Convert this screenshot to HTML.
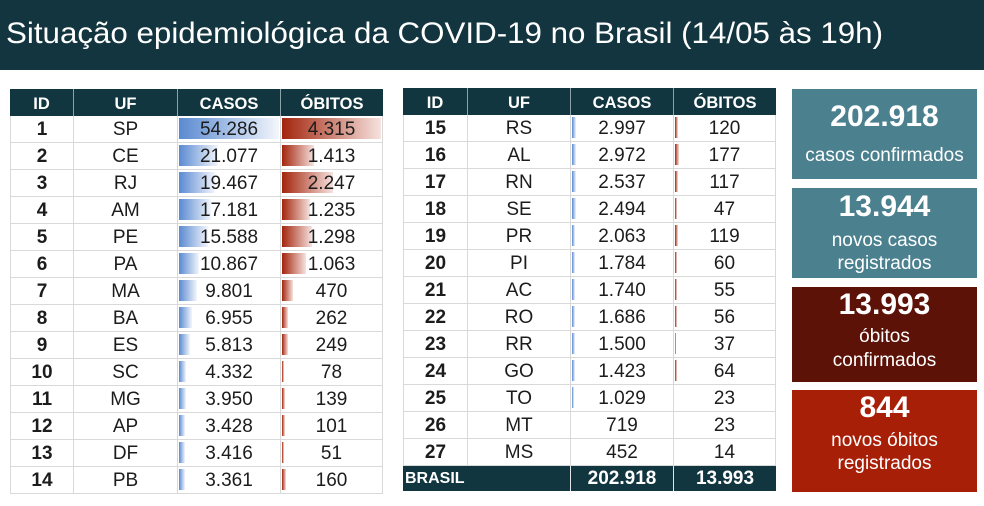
<!DOCTYPE html>
<html><head><meta charset="utf-8">
<style>
*{margin:0;padding:0;box-sizing:border-box}
html,body{width:984px;height:506px;background:#fff;overflow:hidden;font-family:"Liberation Sans",sans-serif}
.bar{position:absolute;left:0;top:0;width:984px;height:70px;background:#13353f}
.t{position:absolute;display:grid;grid-auto-rows:27px}
.c{position:relative;border-right:1px solid #d9d9d9;border-bottom:1px solid #d9d9d9;text-align:center;line-height:27px;font-size:19px;color:#1c1c1c;overflow:hidden;white-space:nowrap}
.c.f{border-left:1px solid #d9d9d9}
.id{font-weight:bold}
.h{background:#12363f;color:#fff;font-weight:bold;font-size:16.5px;line-height:30px;border-right:1px solid #8ea3a9;border-bottom:none}
.h.l{border-right:none}
.c span{position:relative}
.b{position:absolute;left:1px;top:2px;bottom:3px;background:linear-gradient(90deg,#5a8ad1,#f3f6fc)}
.r{position:absolute;left:1px;top:2px;bottom:3px;background:linear-gradient(90deg,#a3250d,#f6e2de)}
.tot{background:#12363f;color:#fff;font-weight:bold;font-size:19px;line-height:26px;border-right:1px solid #e0e6e8;border-bottom:none;height:25px}
.box{position:absolute;left:792px;width:185px;color:#fff;text-align:center}
.box .n{position:absolute;left:0;width:100%;font-weight:bold;font-size:30px;line-height:30px}
.box .lb{position:absolute;left:0;width:100%;font-size:19px;line-height:23px}
</style></head><body>
<div class="bar"></div>
<svg style="position:absolute;left:0;top:0" width="984" height="70">
<text x="6" y="43" font-family="Liberation Sans, sans-serif" font-size="30" fill="#fff" textLength="877" lengthAdjust="spacingAndGlyphs">Situação epidemiológica da COVID-19 no Brasil (14/05 às 19h)</text>
</svg>

<div class="t" style="left:10px;top:89px;grid-template-columns:64px 104px 103px 102px">
<div class="c h">ID</div><div class="c h">UF</div><div class="c h">CASOS</div><div class="c h l">ÓBITOS</div>

<div class="c f id">1</div><div class="c">SP</div><div class="c"><i class="b" style="width:100px"></i><span>54.286</span></div><div class="c"><i class="r" style="width:99px"></i><span>4.315</span></div>
<div class="c f id">2</div><div class="c">CE</div><div class="c"><i class="b" style="width:39px"></i><span>21.077</span></div><div class="c"><i class="r" style="width:32px"></i><span>1.413</span></div>
<div class="c f id">3</div><div class="c">RJ</div><div class="c"><i class="b" style="width:36px"></i><span>19.467</span></div><div class="c"><i class="r" style="width:51px"></i><span>2.247</span></div>
<div class="c f id">4</div><div class="c">AM</div><div class="c"><i class="b" style="width:32px"></i><span>17.181</span></div><div class="c"><i class="r" style="width:28px"></i><span>1.235</span></div>
<div class="c f id">5</div><div class="c">PE</div><div class="c"><i class="b" style="width:29px"></i><span>15.588</span></div><div class="c"><i class="r" style="width:30px"></i><span>1.298</span></div>
<div class="c f id">6</div><div class="c">PA</div><div class="c"><i class="b" style="width:20px"></i><span>10.867</span></div><div class="c"><i class="r" style="width:24px"></i><span>1.063</span></div>
<div class="c f id">7</div><div class="c">MA</div><div class="c"><i class="b" style="width:18px"></i><span>9.801</span></div><div class="c"><i class="r" style="width:11px"></i><span>470</span></div>
<div class="c f id">8</div><div class="c">BA</div><div class="c"><i class="b" style="width:13px"></i><span>6.955</span></div><div class="c"><i class="r" style="width:6px"></i><span>262</span></div>
<div class="c f id">9</div><div class="c">ES</div><div class="c"><i class="b" style="width:11px"></i><span>5.813</span></div><div class="c"><i class="r" style="width:6px"></i><span>249</span></div>
<div class="c f id">10</div><div class="c">SC</div><div class="c"><i class="b" style="width:7px"></i><span>4.332</span></div><div class="c"><i class="r" style="width:2px"></i><span>78</span></div>
<div class="c f id">11</div><div class="c">MG</div><div class="c"><i class="b" style="width:7px"></i><span>3.950</span></div><div class="c"><i class="r" style="width:3px"></i><span>139</span></div>
<div class="c f id">12</div><div class="c">AP</div><div class="c"><i class="b" style="width:6px"></i><span>3.428</span></div><div class="c"><i class="r" style="width:2.5px"></i><span>101</span></div>
<div class="c f id">13</div><div class="c">DF</div><div class="c"><i class="b" style="width:6px"></i><span>3.416</span></div><div class="c"><i class="r" style="width:1.5px"></i><span>51</span></div>
<div class="c f id">14</div><div class="c">PB</div><div class="c"><i class="b" style="width:6px"></i><span>3.361</span></div><div class="c"><i class="r" style="width:3.5px"></i><span>160</span></div>
</div>

<div class="t" style="left:403px;top:88px;grid-template-columns:65px 103px 103px 102px">
<div class="c h">ID</div><div class="c h">UF</div><div class="c h">CASOS</div><div class="c h l">ÓBITOS</div>

<div class="c f id">15</div><div class="c">RS</div><div class="c"><i class="b" style="width:4px"></i><span>2.997</span></div><div class="c"><i class="r" style="width:2.5px"></i><span>120</span></div>
<div class="c f id">16</div><div class="c">AL</div><div class="c"><i class="b" style="width:4px"></i><span>2.972</span></div><div class="c"><i class="r" style="width:3.5px"></i><span>177</span></div>
<div class="c f id">17</div><div class="c">RN</div><div class="c"><i class="b" style="width:3.5px"></i><span>2.537</span></div><div class="c"><i class="r" style="width:2.5px"></i><span>117</span></div>
<div class="c f id">18</div><div class="c">SE</div><div class="c"><i class="b" style="width:3.5px"></i><span>2.494</span></div><div class="c"><i class="r" style="width:1.5px"></i><span>47</span></div>
<div class="c f id">19</div><div class="c">PR</div><div class="c"><i class="b" style="width:3px"></i><span>2.063</span></div><div class="c"><i class="r" style="width:2.5px"></i><span>119</span></div>
<div class="c f id">20</div><div class="c">PI</div><div class="c"><i class="b" style="width:3px"></i><span>1.784</span></div><div class="c"><i class="r" style="width:1.5px"></i><span>60</span></div>
<div class="c f id">21</div><div class="c">AC</div><div class="c"><i class="b" style="width:3px"></i><span>1.740</span></div><div class="c"><i class="r" style="width:1.5px"></i><span>55</span></div>
<div class="c f id">22</div><div class="c">RO</div><div class="c"><i class="b" style="width:3px"></i><span>1.686</span></div><div class="c"><i class="r" style="width:1.5px"></i><span>56</span></div>
<div class="c f id">23</div><div class="c">RR</div><div class="c"><i class="b" style="width:2.5px"></i><span>1.500</span></div><div class="c"><i class="r" style="width:1.2px"></i><span>37</span></div>
<div class="c f id">24</div><div class="c">GO</div><div class="c"><i class="b" style="width:2.5px"></i><span>1.423</span></div><div class="c"><i class="r" style="width:1.5px"></i><span>64</span></div>
<div class="c f id">25</div><div class="c">TO</div><div class="c"><i class="b" style="width:1.5px"></i><span>1.029</span></div><div class="c"><span>23</span></div>
<div class="c f id">26</div><div class="c">MT</div><div class="c"><span>719</span></div><div class="c"><span>23</span></div>
<div class="c f id">27</div><div class="c">MS</div><div class="c"><span>452</span></div><div class="c"><span>14</span></div>
<div class="c tot" style="grid-column:1 / span 2;text-align:left;padding-left:2px;font-size:16px">BRASIL</div><div class="c tot">202.918</div><div class="c tot" style="border-right:none">13.993</div>
</div>

<div class="box" style="top:89px;height:90px;background:#4b808f">
<div class="n" style="top:12.6px">202.918</div>
<div class="lb" style="top:55px">casos confirmados</div>
</div>
<div class="box" style="top:188px;height:90px;background:#4b808f">
<div class="n" style="top:3.6px">13.944</div>
<div class="lb" style="top:41px">novos casos</div>
<div class="lb" style="top:64px">registrados</div>
</div>
<div class="box" style="top:287px;height:95px;background:#5c1207">
<div class="n" style="top:2.6px">13.993</div>
<div class="lb" style="top:38px">óbitos</div>
<div class="lb" style="top:62px">confirmados</div>
</div>
<div class="box" style="top:390px;height:102px;background:#a81f08">
<div class="n" style="top:2.6px">844</div>
<div class="lb" style="top:39px">novos óbitos</div>
<div class="lb" style="top:62px">registrados</div>
</div>
</body></html>
